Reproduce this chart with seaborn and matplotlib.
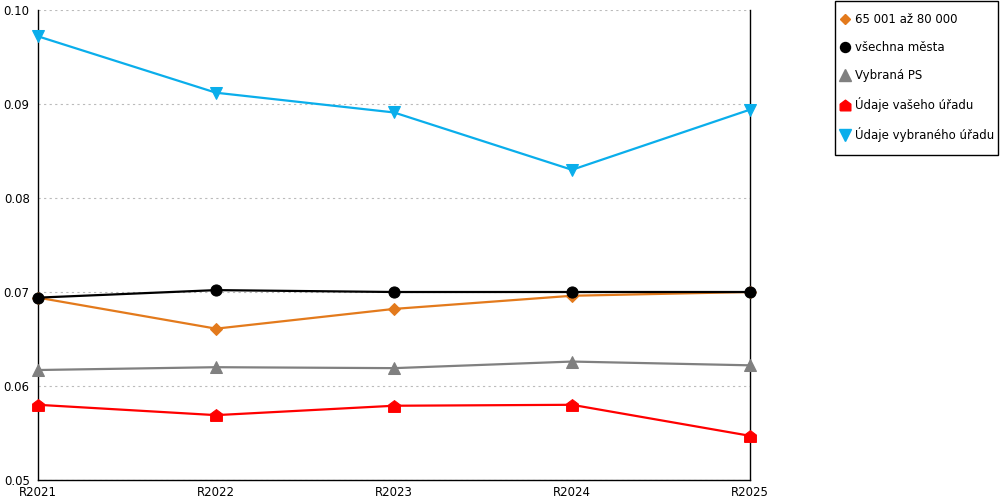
import numpy as np
import pandas as pd
import matplotlib
matplotlib.use("Agg")
import matplotlib.pyplot as plt
from matplotlib.lines import Line2D
from matplotlib.patches import Rectangle
import seaborn as sns

# values
years = ["R2021", "R2022", "R2023", "R2024", "R2025"]
size_band = [0.0694, 0.0661, 0.0682, 0.0696, 0.0700]   # 65 001 až 80 000
all_towns = [0.0694, 0.0702, 0.0700, 0.0700, 0.0700]   # všechna města
chosen_ps = [0.0617, 0.0620, 0.0619, 0.0626, 0.0622]   # Vybraná PS
your_office = [0.0580, 0.0569, 0.0579, 0.0580, 0.0547]  # Údaje vašeho úřadu
chosen_office = [0.0972, 0.0912, 0.0891, 0.0830, 0.0894]  # Údaje vybraného úřadu

names = ["65 001 až 80 000", "všechna města", "Vybraná PS",
         "Údaje vašeho úřadu", "Údaje vybraného úřadu"]
series = [size_band, all_towns, chosen_ps, your_office, chosen_office]
colors = ["#E37A1C", "#000000", "#808080", "#FF0000", "#0AAEEB"]
house = [(-1, -1), (1, -1), (1, 0.25), (0, 1), (-1, 0.25), (-1, -1)]
markers = ["D", "o", "^", house, "v"]
msizes = [6, 8, 9, 8.5, 9]

df = pd.DataFrame({
    "year": np.tile(np.arange(len(years)), len(names)),
    "value": np.concatenate(series),
    "series": np.repeat(names, len(years)),
})

sns.set_style("white")
plt.rcParams["font.family"] = ["DejaVu Sans"]
plt.rcParams["font.size"] = 8.5
plt.rcParams["text.color"] = "black"
plt.rcParams["xtick.color"] = "black"
plt.rcParams["ytick.color"] = "black"

fig = plt.figure(figsize=(10, 5), dpi=100)
ax = fig.add_axes([0.038, 0.04, 0.712, 0.94])

for name, col, mk, ms in zip(names, colors, markers, msizes):
    sub = df[df["series"] == name]
    sns.lineplot(data=sub, x="year", y="value", color=col, marker=mk,
                 markersize=ms, markeredgecolor=col, linewidth=1.6,
                 ax=ax, legend=False, clip_on=False, zorder=3)

ax.set_xlim(0, len(years) - 1)
ax.set_ylim(0.05, 0.10)
ax.set_xticks(range(len(years)))
ax.set_xticklabels(years)
ax.set_xticks(np.arange(0.5, len(years) - 1, 1), minor=True)
ax.set_yticks([0.05, 0.06, 0.07, 0.08, 0.09, 0.10])
ax.set_yticklabels(["0.05", "0.06", "0.07", "0.08", "0.09", "0.10"])
ax.set_xlabel("")
ax.set_ylabel("")

ax.yaxis.grid(True, color="#bbbbbb", linestyle=(0, (2, 3)), linewidth=0.8)
ax.xaxis.grid(False)
ax.tick_params(axis="y", which="major", direction="out", length=5,
               width=1, labelsize=8.5, pad=1)
ax.tick_params(axis="x", which="major", direction="out", length=4,
               width=1, labelsize=8.5, pad=0)
ax.tick_params(axis="x", which="minor", direction="inout", length=8,
               width=1)

for side in ["left", "bottom", "right"]:
    ax.spines[side].set_color("black")
    ax.spines[side].set_linewidth(1)
ax.spines["top"].set_visible(False)

# legend box drawn separately: the original has tight sides, roomy top/bottom
fig.patches.append(Rectangle((0.835, 0.69), 0.163, 0.308,
                             transform=fig.transFigure, fill=False,
                             edgecolor="black", linewidth=1))

handles = [Line2D([], [], linestyle="none", marker=mk, color=col,
                  markersize=ms * 0.9, markeredgecolor=col)
           for col, mk, ms in zip(colors, markers, msizes)]
leg = fig.legend(handles, names, loc="upper left",
                 bbox_to_anchor=(0.8403, 0.974), frameon=False,
                 fontsize=8.5, labelspacing=1.28,
                 handlelength=0.8, handletextpad=0.45, borderpad=0,
                 borderaxespad=0)
for t in leg.get_texts():
    t.set_color("black")

fig.savefig("out.png", dpi=100)
